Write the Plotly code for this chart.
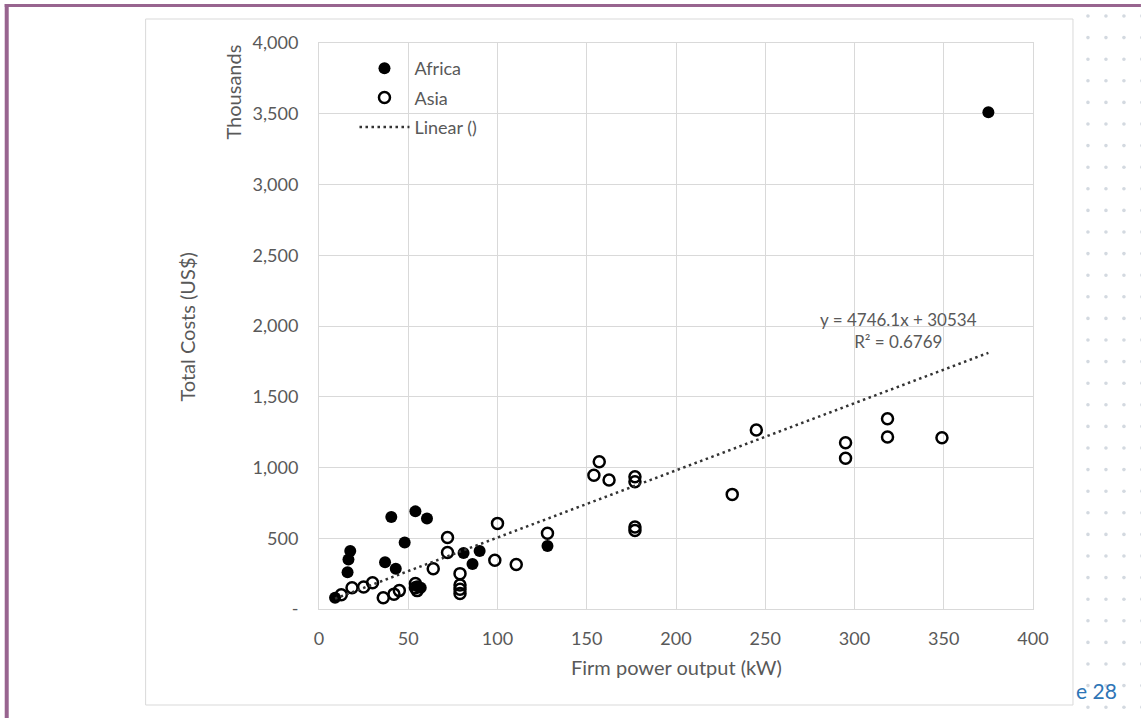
import plotly.graph_objects as go

# ---------------- data (thousands of US$ vs kW) ----------------
africa_x = [9, 16, 16.5, 17.5, 37, 43, 40.5, 48, 54, 60.5, 55, 57, 81, 86, 90, 128, 375]
africa_y = [80, 260, 350, 410, 330, 285, 650, 470, 690, 640, 160, 150, 395, 318, 410, 445, 3510]

asia_x = [12.5, 18.5, 25, 30, 36, 42, 45, 54, 54, 55, 64, 72, 72, 79, 79, 79, 79,
          98.5, 100, 110.5, 128, 154, 157, 162.5, 177, 177, 177, 177, 231.5, 245,
          295, 295, 318.5, 318.5, 349]
asia_y = [100, 150, 155, 185, 80, 105, 130, 180, 150, 130, 285, 505, 400, 250, 170, 140, 110,
          345, 605, 315, 535, 945, 1040, 912, 935, 900, 580, 555, 810, 1265,
          1175, 1065, 1345, 1215, 1210]

trend_slope = 4746.1      # US$ per kW
trend_intercept = 30534   # US$
trend_label = ["y = 4746.1x + 30534", "R² = 0.6769"]

x_ticks = [0, 50, 100, 150, 200, 250, 300, 350, 400]
y_ticks = [0, 500, 1000, 1500, 2000, 2500, 3000, 3500, 4000]
y_ticktext = ["-", "500", "1,000", "1,500", "2,000", "2,500", "3,000", "3,500", "4,000"]

# ---------------- layout geometry ----------------
W, H = 1141, 718
L, R, T, B = 318.5, 1033, 43, 609
FONT = "Lato"
GRAY = "#595959"


def px_x(p):
    return (p - L) / (R - L)


def px_y(p):
    return (B - p) / (B - T)


all_x = africa_x + asia_x
tx = [min(all_x), max(all_x)]
ty = [(trend_slope * v + trend_intercept) / 1000 for v in tx]

fig = go.Figure()
fig.add_trace(go.Scatter(
    x=africa_x, y=africa_y, mode="markers", name="Africa", legendgroup="a",
    marker=dict(symbol="circle", size=12, color="black"),
))
fig.add_trace(go.Scatter(
    x=asia_x, y=asia_y, mode="markers", name="Asia", legendgroup="b",
    marker=dict(symbol="circle-open", size=11, color="black", line=dict(width=2.5, color="black")),
))
fig.add_trace(go.Scatter(
    x=tx, y=ty, mode="lines", name="Linear ()", legendgroup="c",
    line=dict(color="#333333", width=2.5, dash="2.5px,3.5px"),
))

shapes = []
# decorative dotted page background on the right
for c in range(4):
    for r in range(34):
        cx = 1142 - c * 18
        cy = 16 + r * 21.6
        shapes.append(dict(
            type="circle", xref="paper", yref="paper", layer="below",
            x0=px_x(cx - 1.8), x1=px_x(cx + 1.8), y0=px_y(cy + 1.8), y1=px_y(cy - 1.8),
            fillcolor="#d3d9e0", line=dict(width=0),
        ))
# chart area box
shapes.append(dict(
    type="rect", xref="paper", yref="paper", layer="below",
    x0=px_x(145), x1=px_x(1073), y0=px_y(705), y1=px_y(19),
    fillcolor="white", line=dict(color="#d9d9d9", width=1),
))
# page frame (purple)
shapes.append(dict(type="line", xref="paper", yref="paper", layer="above",
                   x0=px_x(4), x1=px_x(1141), y0=px_y(5.5), y1=px_y(5.5),
                   line=dict(color="#98648f", width=3)))
shapes.append(dict(type="line", xref="paper", yref="paper", layer="above",
                   x0=px_x(6), x1=px_x(6), y0=px_y(4), y1=px_y(718),
                   line=dict(color="#98648f", width=4)))

annotations = [
    dict(text="<br>".join(trend_label), xref="paper", yref="paper",
         x=px_x(898), y=px_y(330), xanchor="center", yanchor="middle", align="center",
         showarrow=False, font=dict(family=FONT, size=17, color=GRAY)),
    dict(text="Firm power output (kW)", xref="paper", yref="paper",
         x=px_x(676), y=px_y(667), xanchor="center", yanchor="middle",
         showarrow=False, font=dict(family=FONT, size=20, color=GRAY)),
    dict(text="Total Costs (US$)", xref="paper", yref="paper", textangle=-90,
         x=px_x(186), y=px_y(327), xanchor="center", yanchor="middle",
         showarrow=False, font=dict(family=FONT, size=20, color=GRAY)),
    dict(text="Thousands", xref="paper", yref="paper", textangle=-90,
         x=px_x(232), y=px_y(92), xanchor="center", yanchor="middle",
         showarrow=False, font=dict(family=FONT, size=20, color=GRAY)),
    dict(text="e 28", xref="paper", yref="paper",
         x=px_x(1074), y=px_y(690), xanchor="left", yanchor="middle",
         showarrow=False, font=dict(family=FONT, size=21, color="#2e75b6")),
]

fig.update_layout(
    width=W, height=H,
    margin=dict(l=L, r=W - R, t=T, b=H - B, pad=0),
    paper_bgcolor="white", plot_bgcolor="rgba(0,0,0,0)",
    font=dict(family=FONT, size=18, color=GRAY),
    showlegend=True,
    legend=dict(x=px_x(354), y=px_y(50), xanchor="left", yanchor="top",
                bgcolor="rgba(0,0,0,0)", font=dict(family=FONT, size=18, color=GRAY),
                traceorder="grouped", tracegroupgap=3, itemwidth=50),
    shapes=shapes, annotations=annotations,
)
fig.update_xaxes(range=[0, 400], tickvals=x_ticks, showgrid=True, gridcolor="#d9d9d9",
                 gridwidth=1, zeroline=False, showline=True, linecolor="#d9d9d9", mirror=True,
                 ticks="", ticklabelstandoff=13, tickfont=dict(family=FONT, size=18, color=GRAY))
fig.update_yaxes(range=[0, 4000], tickvals=y_ticks, ticktext=y_ticktext, showgrid=True,
                 gridcolor="#d9d9d9", gridwidth=1, zeroline=False, showline=True,
                 linecolor="#d9d9d9", mirror=True, ticks="", ticklabelstandoff=16,
                 tickfont=dict(family=FONT, size=18, color=GRAY))

fig.write_html("out.html", config={"displayModeBar": False},
               post_script="document.body.style.margin='0px';document.body.style.overflow='hidden';")
